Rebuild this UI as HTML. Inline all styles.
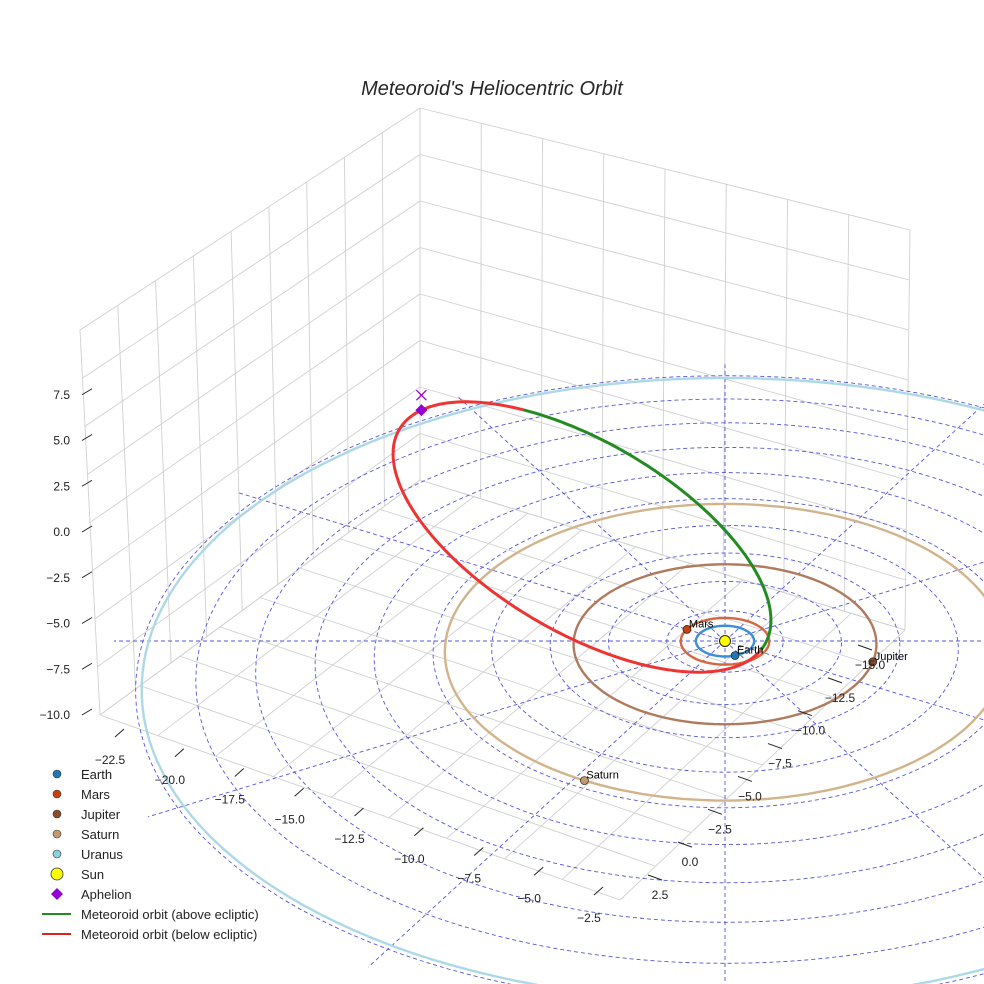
<!DOCTYPE html>
<html><head><meta charset="utf-8"><style>
body{margin:0;background:#fff}
svg{display:block;font-family:"Liberation Sans",sans-serif}
</style></head><body>
<svg id="chart" width="984" height="984" viewBox="0 0 984 984">
<text x="492" y="95" text-anchor="middle" font-size="20" font-style="italic" fill="#262626">Meteoroid's Heliocentric Orbit</text>
<g id="grid"></g>
<g id="plane"></g>
<g id="orbits"></g>
<g id="met"></g>
<g id="bodies"></g>
<g id="ticks"></g>
<g id="legend"></g>
</svg>
<script>
const zTicks=["7.5","5.0","2.5","0.0","\u22122.5","\u22125.0","\u22127.5","\u221210.0"];
const zVals=[7.5,5,2.5,0,-2.5,-5,-7.5,-10];
const xTicks=["\u221222.5","\u221220.0","\u221217.5","\u221215.0","\u221212.5","\u221210.0","\u22127.5","\u22125.0","\u22122.5"];
const yTicks=["2.5","0.0","\u22122.5","\u22125.0","\u22127.5","\u221210.0","\u221212.5","\u221215.0"];
const ringRadii=[2,4,6,8,10,12,14,16,18,20];
const planetNames=["Earth","Mars","Jupiter","Saturn","Uranus"];
const planetOrbitR=[1.0,1.52,5.2,9.6,19.8];
const planetAngle=[-70,150,-15,-118,200];
const planetColors=["#1f77b4","#c8410d","#8c4a2a","#c39a70","#8ecfdf"];
const orbitColors=["#3a8fd6","#d4673f","#b07a5e","#d2b48c","#add8e6"];
const metGreenT=[237,364];
const metRedT=[4,237];

const NS="http://www.w3.org/2000/svg";
function mk(tag,attrs,parent){const e=document.createElementNS(NS,tag);for(const k in attrs)e.setAttribute(k,attrs[k]);parent.appendChild(e);return e;}
const SX=725,SY=641,KX=29.1,KY=15.36,PC=0.0079;
function proj(r,deg){const a=deg*Math.PI/180;const X=r*Math.cos(a),Y=r*Math.sin(a);const f=1/(1+PC*Y);return [SX+X*KX*f,SY-Y*KY*f];}
function ellPath(r){let d="";for(let i=0;i<=180;i++){const p=proj(r,i*2);d+=(i?"L":"M")+p[0].toFixed(1)+","+p[1].toFixed(1);}return d;}
function lerp(a,b,t){return [a[0]+(b[0]-a[0])*t,a[1]+(b[1]-a[1])*t];}

// 3D box grid
const G=document.getElementById('grid');
const TL=[80,330],TB=[420,108],TR=[910,230],BL=[100,715],BB=[420,480],BR=[905,630],BF=[620,900];
function line(p,q,par,st){return mk('line',{x1:p[0],y1:p[1],x2:q[0],y2:q[1],stroke:st||'#d0d0d0','stroke-width':0.9},par);}
for(let i=0;i<=9;i++){const t=i/9;const l=line(lerp(TL,TB,t),lerp(BL,BB,t),G);}
for(let i=0;i<=8;i++){const t=i/8;const l=line(lerp(TB,TR,t),lerp(BB,BR,t),G);}
for(let i=0;i<=8;i++){const t=i/8;const l=line(lerp(TL,BL,t),lerp(TB,BB,t),G);
 const m=line(lerp(TB,BB,t),lerp(TR,BR,t),G);}
for(let i=0;i<=9;i++){const t=i/9;const l=line(lerp(BL,BF,t),lerp(BB,BR,t),G);}
for(let i=0;i<=8;i++){const t=i/8;const l=line(lerp(BB,BL,t),lerp(BR,BF,t),G);}

// ecliptic plane rings & rays
const P=document.getElementById('plane');
ringRadii.forEach(r=>{const e=mk('path',{d:ellPath(r),fill:'none',stroke:'#5555e0','stroke-width':0.9,'stroke-dasharray':'4,3'},P);});
for(let k=0;k<12;k++){const a=proj(21,k*30);const l=mk('line',{x1:SX,y1:SY,x2:a[0],y2:a[1],stroke:'#5555e0','stroke-width':0.9,'stroke-dasharray':'4,3'},P);}

// planet orbits
const O=document.getElementById('orbits');
planetOrbitR.forEach((r,i)=>{const e=mk('path',{d:ellPath(r),fill:'none',stroke:orbitColors[i],'stroke-width':2.4},O);});

// meteoroid orbit
const M=document.getElementById('met');
const MC=[582,537],MA=212,MB=95,ang=30.5*Math.PI/180;const U=[Math.cos(ang),Math.sin(ang)],V=[-Math.sin(ang),Math.cos(ang)];
function mpt(t){const a=t*Math.PI/180;return [MC[0]+MA*Math.cos(a)*U[0]+MB*Math.sin(a)*V[0],MC[1]+MA*Math.cos(a)*U[1]+MB*Math.sin(a)*V[1]];}
function arc(r){let d="";for(let t=r[0],i=0;t<=r[1];t+=1,i++){const p=mpt(t);d+=(i?"L":"M")+p[0].toFixed(1)+","+p[1].toFixed(1);}return d;}
const red=mk('path',{d:arc(metRedT),fill:'none',stroke:'#ee3333','stroke-width':3},M);
const grn=mk('path',{d:arc(metGreenT),fill:'none',stroke:'#228b22','stroke-width':3},M);

// bodies
const B=document.getElementById('bodies');
planetNames.forEach((n,i)=>{if(n==="Uranus")return;const p=proj(planetOrbitR[i],planetAngle[i]);const c=mk('circle',{cx:p[0],cy:p[1],r:4,fill:planetColors[i],stroke:'#222','stroke-width':0.7},B);
 const t=mk('text',{x:p[0]+2,y:p[1]-2,'font-size':11,fill:'#000'},B);t.textContent=n;});
const sun=mk('circle',{cx:SX,cy:SY,r:5.5,fill:'#ffff00',stroke:'#222','stroke-width':1},B);
const ap=mpt(197);
const dia=mk('path',{d:`M${ap[0]},${ap[1]-6}L${ap[0]+6},${ap[1]}L${ap[0]},${ap[1]+6}L${ap[0]-6},${ap[1]}Z`,fill:'#9400d3'},B);
const xm=mk('path',{d:`M${ap[0]-5},${ap[1]-20}L${ap[0]+5},${ap[1]-10}M${ap[0]+5},${ap[1]-20}L${ap[0]-5},${ap[1]-10}`,stroke:'#9400d3','stroke-width':1.3},B);

// ticks
const T=document.getElementById('ticks');
zTicks.forEach((s,i)=>{const y=532-zVals[i]*18.3;const t=mk('text',{x:70,y:y+4,'font-size':12,'text-anchor':'end',fill:'#222'},T);t.textContent=s;
 const l=mk('line',{x1:82,y1:y,x2:92,y2:y-6,stroke:'#222','stroke-width':1},T);});
xTicks.forEach((s,i)=>{const t=i/(xTicks.length-1);const x=110+t*479,y=764+t*158;const e=mk('text',{x:x,y:y,'font-size':12,'text-anchor':'middle',fill:'#222'},T);e.textContent=s;
 const l=mk('line',{x1:x+5,y1:y-27,x2:x+14,y2:y-35,stroke:'#222','stroke-width':1},T);});
yTicks.forEach((s,i)=>{const t=i/(yTicks.length-1);const x=660+t*210,y=899-t*230;const e=mk('text',{x:x,y:y,'font-size':12,'text-anchor':'middle',fill:'#222'},T);e.textContent=s;
 const l=mk('line',{x1:x-12,y1:y-24,x2:x+2,y2:y-19,stroke:'#222','stroke-width':1},T);});

// legend
const L=document.getElementById('legend');
const legLabels=["Earth","Mars","Jupiter","Saturn","Uranus","Sun","Aphelion","Meteoroid orbit (above ecliptic)","Meteoroid orbit (below ecliptic)"];
legLabels.forEach((s,i)=>{const y=774+i*20;let m;
 if(i<5)m=mk('circle',{cx:57,cy:y,r:4,fill:planetColors[i],stroke:'#333','stroke-width':0.6},L);
 else if(i===5)m=mk('circle',{cx:57,cy:y,r:6,fill:'#ffff00',stroke:'#333','stroke-width':0.8},L);
 else if(i===6)m=mk('path',{d:`M57,${y-6}L63,${y}L57,${y+6}L51,${y}Z`,fill:'#9400d3'},L);
 else m=mk('line',{x1:42,y1:y,x2:71,y2:y,stroke:i===7?'#228b22':'#dd2222','stroke-width':2},L);
 
 const t=mk('text',{x:81,y:y+5,'font-size':13,fill:'#222'},L);t.textContent=s;});
</script>
</body></html>
